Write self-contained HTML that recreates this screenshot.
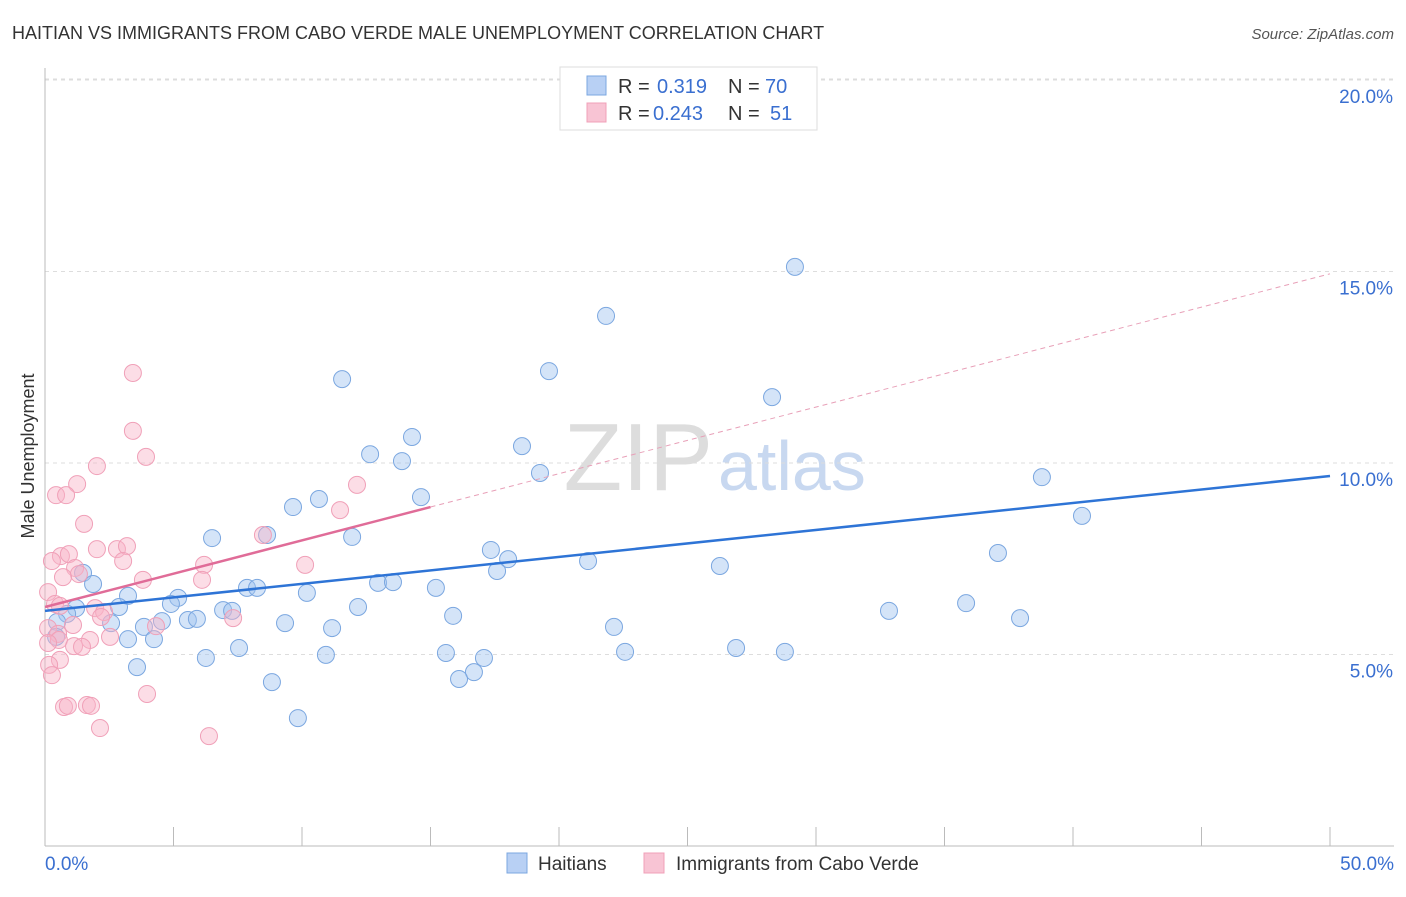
<!DOCTYPE html>
<html><head><meta charset="utf-8"><style>
body{margin:0;background:#fff;font-family:"Liberation Sans",sans-serif;}
svg text{font-family:"Liberation Sans",sans-serif;}
</style></head><body>
<svg id="c" width="1406" height="892" xmlns="http://www.w3.org/2000/svg">
<text x="12" y="39" font-size="18" fill="#333">HAITIAN VS IMMIGRANTS FROM CABO VERDE MALE UNEMPLOYMENT CORRELATION CHART</text>
<text x="1394" y="39" font-size="15" fill="#555" font-style="italic" text-anchor="end">Source: ZipAtlas.com</text>
<text x="713" y="490" font-size="96" fill="#ddd" text-anchor="end" font-family="Liberation Serif">ZIP</text>
<text x="718" y="490" font-size="70" fill="#c8d8f0">atlas</text>
<g id="grid"></g><g id="axes"></g><g id="marks"></g>
<text transform="translate(34,456) rotate(-90)" font-size="18" fill="#333" text-anchor="middle">Male Unemployment</text>
<g>
<rect x="560" y="67" width="257" height="63" fill="#fff" stroke="#ddd"/>
<rect x="587" y="76" width="19" height="19" fill="#b8d0f4" stroke="#7ba7e0"/>
<rect x="587" y="103" width="19" height="19" fill="#f8c4d4" stroke="#f0a0b8"/>
<text x="618" y="93" font-size="20" fill="#333">R =</text>
<text x="657" y="93" font-size="20" fill="#3a6fd0">0.319</text>
<text x="728" y="93" font-size="20" fill="#333">N =</text>
<text x="765" y="93" font-size="20" fill="#3a6fd0">70</text>
<text x="618" y="120" font-size="20" fill="#333">R =</text>
<text x="653" y="120" font-size="20" fill="#3a6fd0">0.243</text>
<text x="728" y="120" font-size="20" fill="#333">N =</text>
<text x="770" y="120" font-size="20" fill="#3a6fd0">51</text>
</g>
<g>
<rect x="507" y="853" width="20" height="20" fill="#b8d0f4" stroke="#7ba7e0"/>
<text x="538" y="870" font-size="19" fill="#333">Haitians</text>
<rect x="644" y="853" width="20" height="20" fill="#f8c4d4" stroke="#f0a0b8"/>
<text x="676" y="870" font-size="19" fill="#333">Immigrants from Cabo Verde</text>
</g>
</svg>
<script>
const yTicks=[5,10,15,20];
const yTickLabels=["5.0%","10.0%","15.0%","20.0%"];
const xTicks=[0,5,10,15,20,25,30,35,40,45,50];
const xEndLabels=["0.0%","50.0%"];
const blueX=[29.18,21.83,19.61,11.56,28.29,14.28,18.56,12.65,13.89,19.26,38.79,10.66,14.63,9.65,40.35,6.50,11.95,8.64,17.35,18.02,37.08,21.13,26.26,17.59,1.48,1.87,12.96,13.54,15.21,7.86,8.25,10.19,3.23,5.18,4.90,2.88,12.18,6.93,7.28,1.21,32.84,35.84,37.94,15.88,0.86,2.57,0.47,5.56,5.91,4.55,9.34,3.85,11.17,22.14,0.43,3.23,4.24,7.55,26.89,6.26,10.93,15.60,17.08,22.57,28.79,3.58,16.69,16.11,8.83,9.84];
const blueY=[15.12,13.84,12.40,12.19,11.72,10.68,10.44,10.23,10.05,9.74,9.63,9.06,9.11,8.85,8.62,8.04,8.07,8.12,7.73,7.49,7.65,7.44,7.31,7.18,7.13,6.84,6.87,6.89,6.74,6.74,6.74,6.61,6.53,6.48,6.32,6.24,6.24,6.16,6.14,6.21,6.14,6.34,5.95,6.01,6.06,5.82,5.85,5.90,5.93,5.87,5.82,5.72,5.69,5.72,5.46,5.40,5.40,5.17,5.17,4.91,4.99,5.04,4.91,5.07,5.07,4.67,4.54,4.36,4.28,3.34];
const pinkX=[3.42,3.42,3.93,2.02,1.25,12.14,0.43,0.82,11.48,1.52,8.48,2.02,2.80,3.19,0.62,0.93,0.27,3.04,1.17,10.12,6.19,1.32,0.70,3.81,6.11,0.12,0.39,0.58,1.95,2.30,2.18,7.32,1.09,4.32,0.12,0.51,2.53,1.75,0.54,1.13,1.44,0.12,0.58,0.16,0.27,3.97,0.74,0.89,1.63,1.79,2.14,6.38];
const pinkY=[12.35,10.84,10.16,9.92,9.45,9.43,9.16,9.16,8.77,8.41,8.12,7.75,7.75,7.83,7.57,7.62,7.44,7.44,7.26,7.34,7.34,7.10,7.02,6.95,6.95,6.63,6.32,6.27,6.21,6.11,5.98,5.95,5.77,5.74,5.69,5.54,5.46,5.38,5.38,5.22,5.20,5.30,4.86,4.73,4.46,3.97,3.63,3.66,3.68,3.66,3.08,2.87];
const blueTrend=[6.14,9.66];
const pinkTrend=[6.24,14.94];
const pinkSolidEnd=15;
const NS="http://www.w3.org/2000/svg";
const sx=v=>45+v*25.7, sy=v=>846-v*38.3;
function mk(tag,parent,attrs){const e=document.createElementNS(NS,tag);for(const k in attrs)e.setAttribute(k,attrs[k]);document.getElementById(parent).appendChild(e);return e;}
yTicks.forEach((t,i)=>{
 const g=mk('line','grid',{x1:45,x2:1394,y1:sy(t),y2:sy(t),stroke:'#ddd','stroke-dasharray':'4,4'});
 
 
 const l=mk('text','grid',{x:1393,y:sy(t)+23,'font-size':19,fill:'#3a6fd0','text-anchor':'end'});
 l.textContent=yTickLabels[i];
 
 
});
const topGrid=mk('line','grid',{x1:45,x2:1394,y1:79,y2:79,stroke:'#ddd','stroke-dasharray':'4,4'});


const ya=mk('line','axes',{x1:45,x2:45,y1:68,y2:846,stroke:'#bbb'});


const xa=mk('line','axes',{x1:45,x2:1394,y1:846,y2:846,stroke:'#bbb'});


xTicks.forEach(t=>{
 const e=mk('line','axes',{x1:sx(t),x2:sx(t),y1:827,y2:846,stroke:'#bbb'});
 
 
});
[[0,'start',45],[50,'end',1394]].forEach((d,i)=>{
 const l=mk('text','axes',{x:d[2],y:870,'font-size':19,fill:'#3a6fd0','text-anchor':d[1]});
 l.textContent=xEndLabels[i];
 
 
});
blueX.forEach((x,i)=>{
 const c=mk('circle','marks',{cx:sx(x),cy:sy(blueY[i]),r:8.5,fill:'rgba(160,196,240,0.45)',stroke:'#7ba7e0','stroke-width':1});
 
 
});
pinkX.forEach((x,i)=>{
 const c=mk('circle','marks',{cx:sx(x),cy:sy(pinkY[i]),r:8.5,fill:'rgba(248,180,200,0.45)',stroke:'#f0a0b8','stroke-width':1});
 
 
});
const pAt=x=>pinkTrend[0]+(pinkTrend[1]-pinkTrend[0])*x/50;
const pd=mk('line','marks',{x1:sx(pinkSolidEnd),y1:sy(pAt(pinkSolidEnd)),x2:sx(50),y2:sy(pAt(50)),stroke:'#e8a0b8','stroke-width':1,'stroke-dasharray':'5,4'});


const ps=mk('line','marks',{x1:sx(0),y1:sy(pAt(0)),x2:sx(pinkSolidEnd),y2:sy(pAt(pinkSolidEnd)),stroke:'#e06c98','stroke-width':2.5});


const bl=mk('line','marks',{x1:sx(0),y1:sy(blueTrend[0]),x2:sx(50),y2:sy(blueTrend[1]),stroke:'#2e74d6','stroke-width':2.5});


</script>
</body></html>
